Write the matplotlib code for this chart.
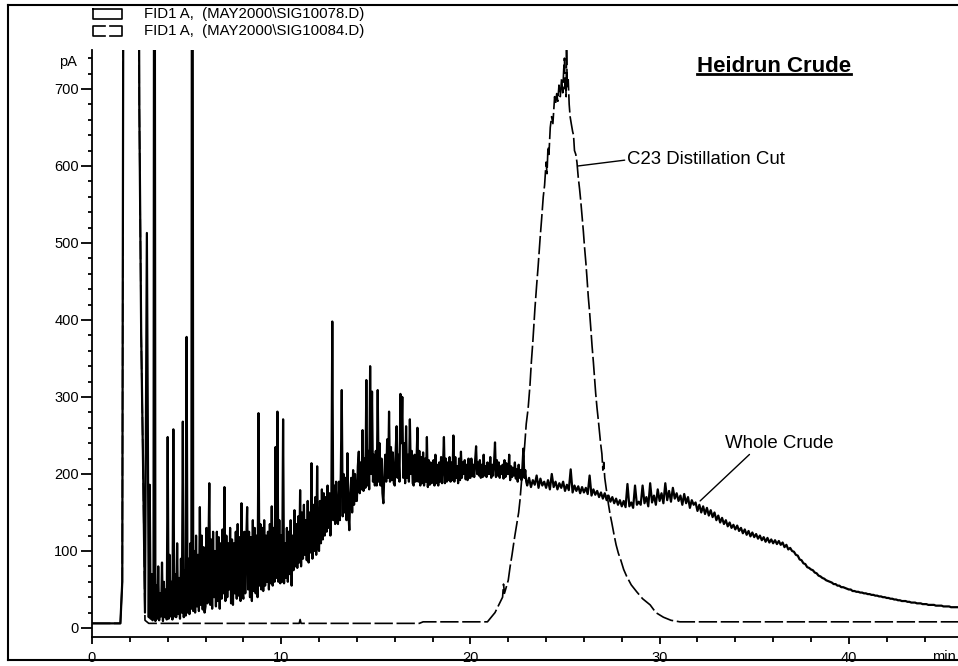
import numpy as np
import matplotlib
matplotlib.use("Agg")
import matplotlib.pyplot as plt
from matplotlib.lines import Line2D
from matplotlib.ticker import MultipleLocator

plt.rcParams['font.family'] = ['Liberation Sans', 'DejaVu Sans']

# Whole crude. Readings every 0.1 min up to 2.9, every 0.05 min over the busy
# 3-23 min stretch, then every 0.1 min to 45.8 (values above 750 run off the top)
crude_t = np.concatenate([np.arange(30) * 0.1, 3 + np.arange(400) * 0.05, 23 + np.arange(229) * 0.1])
crude_pA = [
    # 0 - 2.9 min
    6, 6, 6, 6, 6, 6, 6, 6, 6, 6,
    6, 6, 6, 6, 6, 6, 60, 1500, 1500, 1500,
    1500, 1500, 1500, 1500, 1500, 680, 380, 210, 20, 513,
    # 3 - 22.95 min
    14, 186, 12, 70, 10, 40, 1500, 9, 55, 12, 80, 10, 45, 15, 85, 9, 60, 14, 50, 11,
    248, 12, 95, 15, 60, 11, 258, 15, 70, 14, 110, 18, 65, 12, 90, 20, 268, 14, 75, 16,
    378, 20, 90, 18, 110, 25, 1500, 22, 100, 20, 120, 28, 95, 22, 157, 30, 120, 24, 105, 20,
    28, 130, 32, 95, 188, 30, 115, 25, 125, 40, 100, 28, 125, 35, 118, 25, 110, 38, 128, 45,
    183, 35, 120, 40, 110, 50, 130, 32, 115, 30, 110, 45, 125, 38, 135, 42, 118, 35, 162, 45,
    38, 125, 45, 110, 157, 50, 125, 40, 118, 35, 140, 48, 130, 45, 120, 40, 279, 55, 135, 50,
    130, 48, 140, 55, 120, 60, 125, 50, 135, 58, 158, 55, 130, 60, 235, 65, 281, 60, 140, 58,
    120, 60, 271, 58, 110, 65, 130, 60, 125, 70, 140, 55, 120, 75, 153, 80, 135, 78, 145, 85,
    179, 80, 150, 90, 160, 95, 140, 88, 165, 85, 150, 98, 214, 90, 160, 100, 170, 95, 210, 105,
    100, 165, 110, 180, 115, 175, 120, 170, 125, 185, 130, 175, 120, 160, 398, 140, 185, 135, 190, 140,
    135, 190, 140, 200, 309, 145, 200, 150, 195, 140, 227, 150, 127, 175, 195, 150, 205, 160, 200, 165,
    165, 210, 229, 175, 215, 180, 257, 178, 220, 182, 322, 185, 230, 180, 340, 200, 307, 190, 225, 185,
    230, 185, 309, 190, 240, 185, 220, 175, 162, 200, 225, 190, 245, 195, 281, 190, 235, 192, 228, 188,
    185, 230, 262, 195, 225, 190, 304, 240, 300, 195, 240, 188, 262, 195, 225, 190, 271, 200, 230, 188,
    185, 225, 190, 215, 260, 190, 230, 185, 222, 188, 228, 185, 220, 190, 248, 183, 218, 186, 215, 188,
    190, 218, 185, 225, 188, 212, 185, 215, 190, 222, 188, 210, 248, 188, 220, 190, 215, 192, 222, 190,
    215, 192, 250, 190, 222, 195, 210, 188, 220, 192, 229, 195, 215, 200, 218, 193, 212, 192, 220, 195,
    195, 220, 197, 212, 196, 218, 236, 200, 215, 198, 218, 195, 212, 196, 225, 198, 210, 196, 215, 200,
    200, 222, 195, 212, 198, 215, 241, 196, 218, 198, 215, 195, 210, 200, 212, 194, 218, 196, 214, 200,
    200, 225, 192, 210, 196, 208, 198, 215, 194, 206, 190, 212, 195, 205, 192, 210, 233, 195, 205, 190,
    # 23 - 45.8 min
    185, 195, 183, 192, 186, 198, 182, 194, 185, 190,
    182, 192, 180, 200, 183, 190, 180, 188, 182, 190,
    178, 186, 179, 206, 176, 185, 178, 184, 175, 183,
    176, 182, 174, 198, 172, 180, 173, 178, 170, 176,
    168, 175, 166, 172, 164, 170, 162, 168, 160, 166,
    158, 165, 157, 187, 158, 163, 156, 185, 160, 164,
    160, 185, 162, 170, 158, 188, 163, 172, 160, 180,
    165, 175, 162, 188, 166, 178, 164, 182, 168, 175,
    165, 172, 160, 174, 162, 170, 156, 166, 160, 163,
    152, 160, 150, 158, 148, 156, 146, 153, 144, 150,
    140, 146, 137, 143, 135, 140, 132, 137, 130, 134,
    128, 133, 126, 130, 123, 128, 121, 126, 119, 124,
    118, 122, 116, 120, 114, 118, 112, 117, 111, 115,
    110, 114, 109, 113, 108, 111, 105, 108, 102, 104,
    100, 99, 95, 94, 89, 88, 84, 83, 79, 78,
    76, 75, 72, 71, 68, 67, 65, 64, 62, 61,
    60, 59, 57, 57, 55, 55, 53, 53, 52, 51,
    50, 50, 48, 48, 47, 47, 46, 46, 45, 45,
    44, 44, 43, 43, 42, 42, 41, 41, 40, 40,
    39, 39, 38, 38, 37, 37, 36, 36, 35, 35,
    35, 34, 34, 33, 33, 33, 32, 32, 32, 31,
    31, 31, 30, 30, 30, 30, 29, 29, 29, 29,
    28, 28, 28, 28, 27, 27, 27, 27, 27,
]

# C23 distillation cut
c23_t = [0.0, 1.5, 1.6, 1.7, 2.4, 2.5, 2.6, 2.7, 2.8, 3.0, 10.95, 11.0, 11.05, 17.3, 17.5,
         20.9, 21.3, 21.7, 21.75, 21.8, 22.0, 22.1, 22.2, 22.27, 22.35, 22.45, 22.55,
         22.62, 22.7, 22.8, 22.88, 22.95, 23.05, 23.15, 23.22, 23.3, 23.41, 23.5, 23.58,
         23.68, 23.76, 23.85, 23.92, 24.0, 24.05, 24.1, 24.15, 24.22, 24.29, 24.36,
         24.45, 24.5, 24.56, 24.62, 24.68, 24.75, 24.82, 24.88, 24.93, 24.97, 25.0,
         25.03, 25.06, 25.08, 25.12, 25.17, 25.22, 25.27, 25.33, 25.4, 25.45, 25.5,
         25.57, 25.63, 25.7, 25.77, 25.83, 25.9, 25.97, 26.03, 26.1, 26.16, 26.23,
         26.3, 26.36, 26.43, 26.5, 26.56, 26.62, 26.69, 26.76, 26.82, 26.88, 26.95,
         27.0, 27.05, 27.1, 27.2, 27.3, 27.38, 27.47, 27.6, 27.7, 27.82, 27.95, 28.1,
         28.26, 28.5, 28.79, 29.1, 29.5, 29.8, 30.2, 30.6, 31.07, 45.8]
c23_pA = [6, 6, 60, 1500, 1500, 680, 380, 210, 10, 6, 6, 11, 6, 6, 8,
          8, 20, 40, 57, 45, 62, 80, 95, 107, 120, 135, 150,
          166, 190, 215, 241, 265, 285, 316, 345, 372, 415, 445, 470,
          505, 530, 560, 575, 605, 590, 625, 615, 650, 664, 655,
          690, 680, 694, 684, 705, 690, 714, 695, 725, 740, 700,
          712, 690, 755, 700, 712, 680, 664, 655, 645, 640, 620,
          615, 605, 585, 570, 555, 535, 515, 495, 475, 455, 430,
          410, 390, 366, 345, 325, 305, 286, 270, 255, 240, 226,
          205, 215, 195, 177, 160, 148, 137, 120, 108, 97, 88, 76,
          67, 56, 47, 38, 30, 20, 14, 10, 8, 8]

legend_labels = ["FID1 A,  (MAY2000\\SIG10078.D)", "FID1 A,  (MAY2000\\SIG10084.D)"]
title = "Heidrun Crude"

W, H = 958, 666
fig = plt.figure(figsize=(W / 100, H / 100), dpi=100)


def fx(x):
    return x / W


def fy(y):
    return 1 - y / H


ax = fig.add_axes([fx(92), fy(637), (W - 92) / W, (637 - 50) / H])
ax.plot(crude_t, crude_pA, color='black', lw=1.6)
ax.plot(c23_t, c23_pA, color='black', lw=1.2, dashes=(11, 2.2))

ax.set_xlim(0, 45.77)
ax.set_ylim(-11.7, 750.6)
ax.spines['top'].set_visible(False)
ax.spines['right'].set_visible(False)
ax.spines['left'].set_linewidth(1.3)
ax.spines['bottom'].set_linewidth(1.3)

ax.xaxis.set_major_locator(MultipleLocator(10))
ax.xaxis.set_minor_locator(MultipleLocator(2))
ax.set_yticks(range(0, 701, 100))
ax.yaxis.set_minor_locator(MultipleLocator(20))
ax.tick_params(which='both', direction='out', width=1.3, labelsize=10.5)
ax.tick_params(axis='y', which='major', length=8, pad=1.5)
ax.tick_params(axis='y', which='minor', length=3)
ax.tick_params(axis='x', which='major', length=5, pad=5)
ax.tick_params(axis='x', which='minor', length=3.5)

ax.annotate('pA', xy=(0, 735), xycoords=('axes fraction', 'data'), xytext=(-15, 0),
            textcoords='offset pixels', ha='right', va='center', fontsize=10.5)
fig.text(fx(956), fy(657), 'min', ha='right', va='center', fontsize=10.5)

# peak labels with leader lines
ax.annotate('C23 Distillation Cut', xy=(25.69, 600), xytext=(28.3, 608),
            ha='left', va='center', fontsize=13.4,
            arrowprops=dict(arrowstyle='-', lw=1, shrinkA=0, shrinkB=0, relpos=(0, 0.5)))
ax.annotate('Whole Crude', xy=(32.14, 165), xytext=(33.46, 240),
            ha='left', va='center', fontsize=13.4,
            arrowprops=dict(arrowstyle='-', lw=1, shrinkA=0, shrinkB=0, relpos=(0.26, 0.05)))

# underlined title
tt = fig.text(fx(774), fy(66), title, ha='center', va='center', fontsize=16, fontweight='bold')
fig.canvas.draw()
bb = tt.get_window_extent()
uy = (bb.y0 + 2.5) / H
fig.add_artist(Line2D([bb.x0 / W, bb.x1 / W], [uy, uy], color='black', lw=2))

# legend boxes, solid and dashed
fig.add_artist(Line2D([fx(93), fx(122), fx(122), fx(93), fx(93)],
                      [fy(9), fy(9), fy(19), fy(19), fy(9)], color='black', lw=1.2))
fig.add_artist(Line2D([fx(105), fx(93), fx(93), fx(105)],
                      [fy(26), fy(26), fy(36), fy(36)], color='black', lw=1.2))
fig.add_artist(Line2D([fx(110), fx(122), fx(122), fx(110)],
                      [fy(26), fy(26), fy(36), fy(36)], color='black', lw=1.2))
for lab, ly in zip(legend_labels, [14, 31]):
    fig.text(fx(144), fy(ly), lab, ha='left', va='center', fontsize=10.8)

# outer frame
fig.add_artist(Line2D([fx(8), fx(8)], [fy(5), fy(660)], color='black', lw=1.5))
fig.add_artist(Line2D([fx(8), 1], [fy(5), fy(5)], color='black', lw=1.5))
fig.add_artist(Line2D([fx(8), 1], [fy(660), fy(660)], color='black', lw=1.5))

fig.savefig('out.png', dpi=100)
